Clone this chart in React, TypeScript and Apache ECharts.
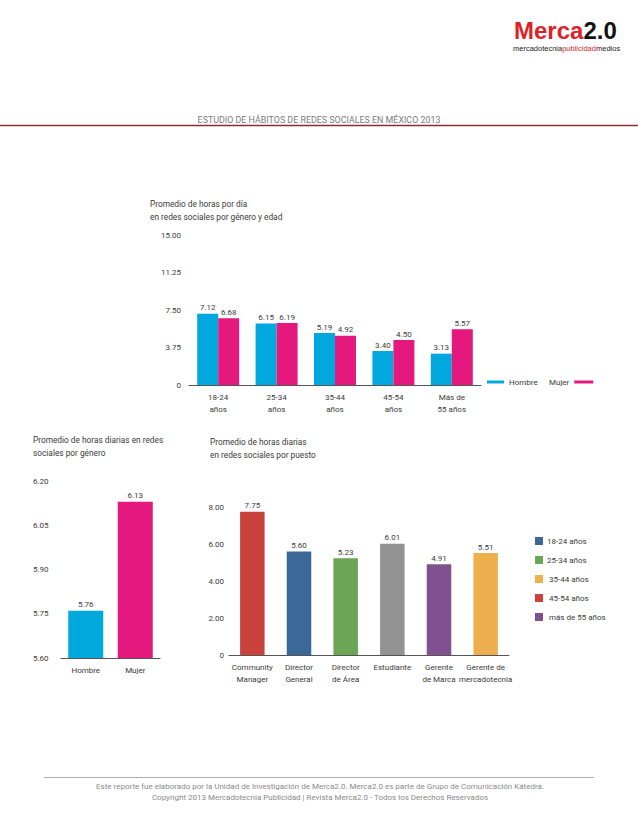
import React, { useEffect, useRef } from "react";
import * as echarts from "echarts";

const FONT = 'Roboto, "DejaVu Sans", sans-serif';
const TXT = "#3a3a3a";

// Top chart: hours per day by gender and age
const ageCategories = ["18-24\naños", "25-34\naños", "35-44\naños", "45-54\naños", "Más de\n55 años"];
const hombreByAge = [7.12, 6.15, 5.19, 3.4, 3.13];
const mujerByAge = [6.68, 6.19, 4.92, 4.5, 5.57];
const ageTicks = [0, 3.75, 7.5, 11.25, 15];

// Bottom-left: by gender
const genderCategories = ["Hombre", "Mujer"];
const genderValues = [5.76, 6.13];
const genderTicks = [5.6, 5.75, 5.9, 6.05, 6.2];

// Bottom-right: by position
const puestoCategories = [
  "Community\nManager",
  "Director\nGeneral",
  "Director\nde Área",
  "Estudiante",
  "Gerente\nde Marca",
  "Gerente de\nmercadotecnia",
];
const puestoValues = [7.75, 5.6, 5.23, 6.01, 4.91, 5.51];
const puestoColors = ["#C9423C", "#3B6898", "#6BA556", "#939393", "#805190", "#EEB04E"];
const puestoTicks = [0, 2, 4, 6, 8];

// Stand-alone legend next to the position chart
const puestoLegendLabels = ["18-24 años", "25-34 años", " 35-44 años", " 45-54 años", " más de 55 años"];
const puestoLegendColors = ["#3B6898", "#6BA556", "#EEB04E", "#C9423C", "#805190"];

const CYAN = "#00A8DE";
const PINK = "#E5197D";

export default function App() {
  const ref = useRef<HTMLDivElement>(null);

  useEffect(() => {
    if (!ref.current) return;
    const chart = echarts.init(ref.current, undefined, { renderer: "svg" });

    const fmt2 = (v: number) => (v === 0 ? "0" : v.toFixed(2));
    const labelStyle = {
      show: true,
      position: "top" as const,
      distance: 2,
      fontSize: 8,
      fontFamily: FONT,
      color: TXT,
      formatter: (p: any) => Number(p.value).toFixed(2),
    };
    const xAxisCommon = {
      type: "category" as const,
      axisLine: { lineStyle: { color: "#555", width: 1 } },
      axisTick: { show: false },
      axisLabel: { fontSize: 8, fontFamily: FONT, color: TXT, interval: 0, margin: 6, lineHeight: 12 },
    };
    const yAxisCommon = {
      type: "value" as const,
      splitLine: { show: false },
      axisLine: { show: false },
      axisTick: { show: false },
      axisLabel: { fontSize: 8, fontFamily: FONT, color: TXT, margin: 8, formatter: fmt2 },
    };

    const graphic: any[] = [];
    const text = (x: number, y: number, t: string, extra: any = {}) =>
      graphic.push({
        type: "text",
        x,
        y,
        silent: true,
        style: {
          text: t,
          fontSize: 8.3,
          fontFamily: FONT,
          fill: TXT,
          align: "left",
          verticalAlign: "middle",
          ...extra,
        },
      });

    // Logo
    const LOGO_FONT = '"Liberation Sans", Arial, sans-serif';
    graphic.push({
      type: "text",
      x: 514,
      y: 40,
      silent: true,
      style: {
        text: "{r|Merca}{k|2.0}",
        verticalAlign: "bottom",
        rich: {
          r: { fontSize: 24, fontWeight: "bold", fontFamily: LOGO_FONT, fill: "#E11F26", lineHeight: 20 },
          k: { fontSize: 24, fontWeight: "bold", fontFamily: LOGO_FONT, fill: "#111111", lineHeight: 20 },
        },
      },
    });
    graphic.push({
      type: "text",
      x: 513,
      y: 48,
      silent: true,
      style: {
        text: "{a|mercadotecnia}{b|publicidad}{a|medios}",
        verticalAlign: "middle",
        rich: {
          a: { fontSize: 7.5, fontFamily: LOGO_FONT, fill: "#222222", lineHeight: 8 },
          b: { fontSize: 7.5, fontFamily: LOGO_FONT, fill: "#E11F26", lineHeight: 8 },
        },
      },
    });

    // Header
    text(319, 120, "ESTUDIO DE HÁBITOS DE REDES SOCIALES EN MÉXICO 2013", {
      align: "center",
      fill: "#7a7a7a",
      fontSize: 8.9,
    });
    graphic.push({
      type: "line",
      silent: true,
      shape: { x1: 0, y1: 125.5, x2: 638, y2: 125.5 },
      style: { stroke: "#8A2E30", lineWidth: 1.3 },
    });

    // Chart titles
    text(150, 204, "Promedio de horas por día");
    text(150, 217, "en redes sociales por género y edad");
    text(33, 440, "Promedio de horas diarias en redes");
    text(33, 453, "sociales por género");
    text(210, 442, "Promedio de horas diarias");
    text(210, 455, "en redes sociales por puesto");

    // Position legend
    puestoLegendLabels.forEach((lab, i) => {
      const cy = 541 + i * 19;
      graphic.push({
        type: "rect",
        silent: true,
        shape: { x: 535, y: cy - 4, width: 8, height: 8 },
        style: { fill: puestoLegendColors[i] },
      });
      text(547, cy, lab, { fontSize: 8 });
    });

    // Footer
    graphic.push({
      type: "line",
      silent: true,
      shape: { x1: 44, y1: 777.5, x2: 594, y2: 777.5 },
      style: { stroke: "#9a9a9a", lineWidth: 0.8 },
    });
    text(320, 786, "Este reporte fue elaborado por la Unidad de Investigación de Merca2.0. Merca2.0 es parte de Grupo de Comunicación Kátedra.", {
      align: "center",
      fill: "#8a8a8a",
      fontSize: 8,
    });
    text(320, 797, "Copyright 2013 Mercadotecnia Publicidad | Revista Merca2.0 - Todos los Derechos Reservados", {
      align: "center",
      fill: "#8a8a8a",
      fontSize: 8,
    });

    chart.setOption({
      animation: false,
      backgroundColor: "#ffffff",
      textStyle: { fontFamily: FONT },
      grid: [
        { left: 189, top: 235, width: 292, height: 150 },
        { left: 61, top: 481, width: 99, height: 177 },
        { left: 229, top: 507, width: 280, height: 148 },
      ],
      legend: [
        {
          data: ["Hombre"],
          left: 487,
          top: 378,
          padding: 0,
          icon: "rect",
          itemWidth: 17,
          itemHeight: 3,
          selectedMode: false,
          textStyle: { fontSize: 8, fontFamily: FONT, color: TXT },
        },
        {
          data: ["Mujer"],
          left: 549,
          top: 378,
          padding: 0,
          align: "right",
          icon: "rect",
          itemWidth: 19,
          itemHeight: 3,
          selectedMode: false,
          textStyle: { fontSize: 8, fontFamily: FONT, color: TXT },
        },
      ],
      xAxis: [
        { ...xAxisCommon, gridIndex: 0, data: ageCategories },
        { ...xAxisCommon, gridIndex: 1, data: genderCategories },
        { ...xAxisCommon, gridIndex: 2, data: puestoCategories },
      ],
      yAxis: [
        { ...yAxisCommon, gridIndex: 0, min: ageTicks[0], max: ageTicks[ageTicks.length - 1], interval: ageTicks[1] - ageTicks[0] },
        {
          ...yAxisCommon,
          gridIndex: 1,
          min: genderTicks[0],
          max: genderTicks[genderTicks.length - 1],
          interval: 0.15,
          axisLabel: { ...yAxisCommon.axisLabel, align: "left", margin: 28 },
        },
        { ...yAxisCommon, gridIndex: 2, min: puestoTicks[0], max: puestoTicks[puestoTicks.length - 1], interval: puestoTicks[1] - puestoTicks[0], axisLabel: { ...yAxisCommon.axisLabel, margin: 5 } },
      ],
      graphic,
      series: [
        {
          name: "Hombre",
          type: "bar",
          xAxisIndex: 0,
          yAxisIndex: 0,
          data: hombreByAge,
          barWidth: 21,
          barGap: "0%",
          itemStyle: { color: CYAN },
          label: labelStyle,
        },
        {
          name: "Mujer",
          type: "bar",
          xAxisIndex: 0,
          yAxisIndex: 0,
          data: mujerByAge,
          barWidth: 21,
          barGap: "0%",
          itemStyle: { color: PINK },
          label: labelStyle,
        },
        {
          name: "Por género",
          type: "bar",
          xAxisIndex: 1,
          yAxisIndex: 1,
          barWidth: 35,
          data: genderValues.map((v, i) => ({ value: v, itemStyle: { color: [CYAN, PINK][i] } })),
          label: labelStyle,
        },
        {
          name: "Por puesto",
          type: "bar",
          xAxisIndex: 2,
          yAxisIndex: 2,
          barWidth: 24.5,
          data: puestoValues.map((v, i) => ({ value: v, itemStyle: { color: puestoColors[i] } })),
          label: labelStyle,
        },
      ],
    });

    return () => chart.dispose();
  }, []);

  return (
    <div
      ref={ref}
      style={{ position: "absolute", left: 0, top: 0, width: 638, height: 826 }}
    />
  );
}
